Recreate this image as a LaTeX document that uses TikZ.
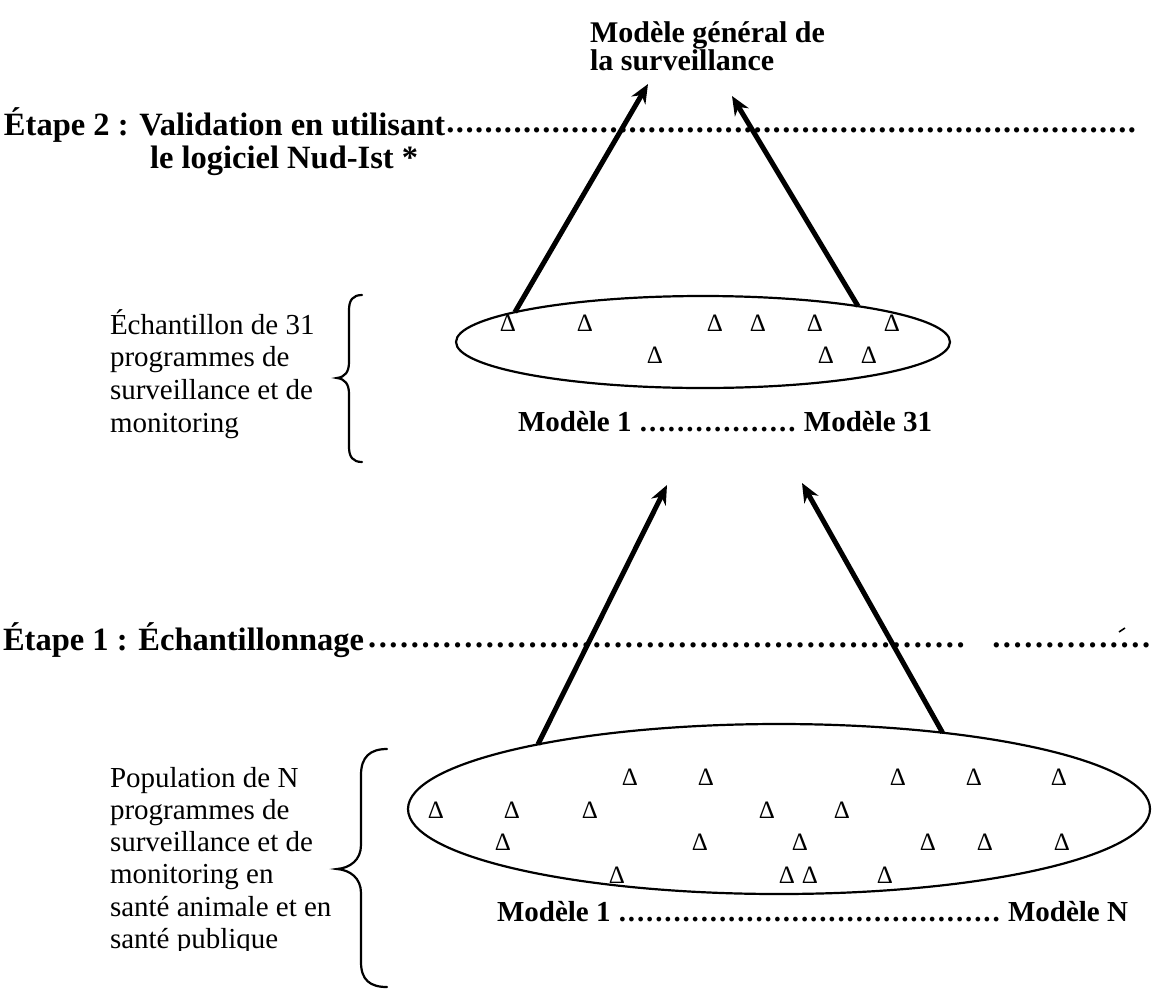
\documentclass[tikz,border=0pt]{standalone}
\usepackage{fontspec}
\setmainfont{Liberation Serif}
\usetikzlibrary{shapes.geometric,arrows.meta}
\newcommand\mydotfill[1]{\leaders\hbox to #1{\hss\raisebox{3pt}{.}\hss}\hfill}
\newcommand\mydotfillb[1]{\xleaders\hbox to #1{\hss.\hss}\hfill}
\begin{document}
\begin{tikzpicture}[x=1pt,y=-1pt,
  every node/.style={inner sep=0pt,outer sep=0pt},
  txt/.style={font=\fontsize{29}{32}\selectfont,anchor=base west},
  bld/.style={font=\fontsize{29}{32}\selectfont\bfseries,anchor=base west},
  stp/.style={font=\fontsize{32.5}{34}\selectfont\bfseries,anchor=base west},
  ttl/.style={font=\fontsize{30}{30}\selectfont\bfseries,anchor=base west},
  ell/.style={draw,ellipse,line width=2.2pt},
  arr/.style={line width=5pt,-{Stealth[length=19pt,width=16pt]}},
  tri/.style={font=\fontsize{25}{25}\selectfont,anchor=center},
  brc/.style={line width=2.2pt,line cap=round},
]
\fill[white] (0,0) rectangle (1155,988);
\useasboundingbox (0,0) rectangle (1155,988);

% title
\node[ttl] (ti1) at (590,42) {Modèle général de};
\node[ttl] (ti2) at (590,70) {la surveillance};

% step 2
\node[stp] (s2a) at (4,135) {\makebox[1140pt][l]{Étape 2 : Validation en utilisant\mydotfill{9.6pt}}};
\node[stp] (s2b) at (150,168) {le logiciel Nud-Ist *};

% upper left text
\node[txt] (u1) at (110,334) {Échantillon de 31};
\node[txt] (u2) at (110,366) {programmes de};
\node[txt] (u3) at (110,399) {surveillance et de};
\node[txt] (u4) at (110,432) {monitoring};
\draw[brc] (362,295) .. controls (353,295) and (349,300) .. (349,310) -- (349,362)
  .. controls (349,372) and (345,377) .. (337,378)
  .. controls (345,379) and (349,384) .. (349,394) -- (349,447)
  .. controls (349,457) and (353,462) .. (362,462);

% upper ellipse
\node[ell,minimum width=494pt,minimum height=92pt] (e2) at (703,342) {};
\foreach \x/\y [count=\i] in {508/323,585/323,715/323,758/323,815/323,892/323,655/355,826/355,869/355}
  \node[tri] (ut\i) at (\x,\y) {Δ};
\node[bld] (m2) at (518,431) {\makebox[414pt][l]{Modèle 1 \mydotfillb{9pt} Modèle 31}};

% top arrows
\coordinate (t1) at (648,84);
\coordinate (t2) at (732,96);
\draw[arr] (e2.171) -- (t1);
\draw[arr] (e2.13) -- (t2);

% step 1
\node[stp] (s1) at (3,650) {\makebox[972pt][l]{Étape 1 : Échantillonnage\mydotfill{10.7pt}}\hspace{16pt}\makebox[164pt][l]{\mydotfill{10.7pt}}};
\draw[line width=1.6pt] (1119,632) -- (1125,628);

% lower ellipse
\node[ell,minimum width=742pt,minimum height=170pt] (e1) at (779,809) {};
\foreach \x/\y [count=\i] in {630/777,706/777,898/777,974/777,1059/777,
  436/810,512/810,590/810,767/810,842/810,
  503/842,700/842,800/842,928/842,985/842,1062/842,
  617/875,787/875,810/875,885/875}
  \node[tri] (lt\i) at (\x,\y) {Δ};
\node[bld] (m1) at (497,921) {\makebox[631pt][l]{Modèle 1 \mydotfillb{9pt} Modèle N}};

% middle arrows
\coordinate (t3) at (667,485);
\coordinate (t4) at (802,483);
\draw[arr] (e1.165.6) -- (t3);
\draw[arr] (e1.25.8) -- (t4);

% lower left text
\node[txt] (l1) at (110,787) {Population de N};
\node[txt] (l2) at (110,819) {programmes de};
\node[txt] (l3) at (110,851) {surveillance et de};
\node[txt] (l4) at (110,883) {monitoring en};
\node[txt] (l5) at (110,916) {santé animale et en};
\begin{scope}
  \clip (100,920) rectangle (400,950);
  \node[txt] (l6) at (110,948) {santé publique};
\end{scope}
\draw[brc] (387,749) .. controls (370,749) and (361,757) .. (361,775) -- (361,845)
  .. controls (361,860) and (350,868) .. (337,869)
  .. controls (350,870) and (361,878) .. (361,893) -- (361,962)
  .. controls (361,980) and (370,987) .. (387,987);
\end{tikzpicture}
\end{document}
